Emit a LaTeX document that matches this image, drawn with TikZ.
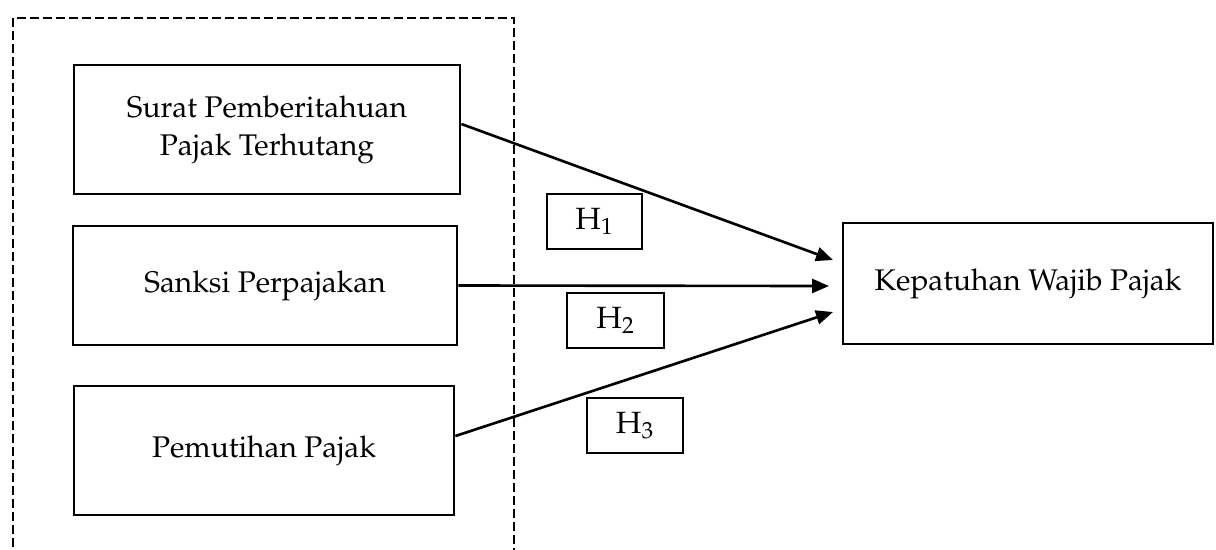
\documentclass[tikz,border=0pt]{standalone}
\usepackage[T1]{fontenc}
\usepackage{mathpazo}
\usetikzlibrary{arrows.meta}
\tikzset{
  varbox/.style={draw, line width=1.6pt, font=\fontsize{17}{21.6}\selectfont, align=center, inner sep=0pt},
  hbox/.style={draw, line width=1.6pt, font=\fontsize{17.5}{18}\selectfont, inner sep=0pt},
  conn/.style={line width=1.5pt, -{Triangle[length=0.34cm,width=0.28cm]}},
  frame/.style={line width=1.6pt, dash pattern=on 0.18cm off 0.08cm}
}
\begin{document}
\begin{tikzpicture}[x=0.02cm,y=-0.02cm]
\useasboundingbox (0,0) rectangle (1216,549);
\draw[frame] (13,560) -- (13,18) -- (514,18) -- (514,560);
\node[varbox, minimum width=386*0.02cm, minimum height=129*0.02cm] (spt) at (267,129.5) {Surat Pemberitahuan\\Pajak Terhutang};
\node[varbox, minimum width=384*0.02cm, minimum height=119*0.02cm] (sp) at (265,285.5) {Sanksi Perpajakan};
\node[varbox, minimum width=380*0.02cm, minimum height=129*0.02cm] (pp) at (264,450.5) {Pemutihan Pajak};
\node[varbox, minimum width=370*0.02cm, minimum height=121*0.02cm] (kwp) at (1028,283.5) {Kepatuhan Wajib Pajak};
\node[hbox, minimum width=95*0.02cm, minimum height=55*0.02cm] (h1) at (594.5,221.5) {H\textsubscript{1}};
\node[hbox, minimum width=97*0.02cm, minimum height=55*0.02cm] (h2) at (615.5,320.5) {H\textsubscript{2}};
\node[hbox, minimum width=96*0.02cm, minimum height=55*0.02cm] (h3) at (635,425.5) {H\textsubscript{3}};
\coordinate (t1) at (833,260);
\coordinate (t2) at (829,286);
\coordinate (t3) at (833,312);
\draw[conn] (spt.east |- 0,124) -- (t1);
\draw[conn] (sp.east) -- (t2);
\draw[conn] (pp.east |- 0,436) -- (t3);
\end{tikzpicture}
\end{document}
